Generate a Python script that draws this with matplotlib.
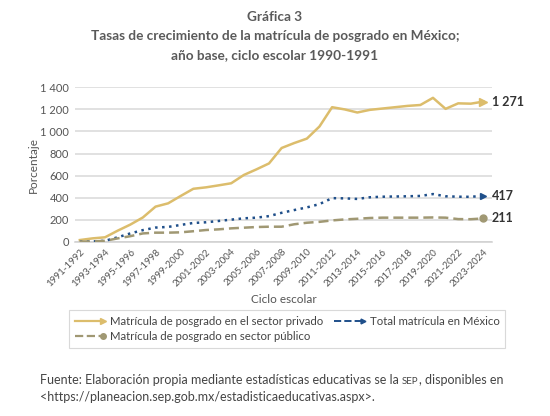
import numpy as np
import matplotlib
matplotlib.use("Agg")
import matplotlib.pyplot as plt
from matplotlib.lines import Line2D
from matplotlib.legend_handler import HandlerBase

plt.rcParams['font.family'] = ['Lato', 'DejaVu Sans']

# school years 1991-1992 ... 2023-2024
ciclos = ["%d-%d" % (y, y + 1) for y in range(1991, 2024)]

# growth rates (%), base year 1990-1991
privado = [15, 30, 40, 100, 155, 220, 318, 348, 415, 480, 493, 511, 530, 605, 656, 710,
           850, 895, 935, 1045, 1220, 1200, 1172, 1196, 1208, 1220, 1232, 1240, 1305, 1205,
           1255, 1252, 1271]
total = [0, 3, 8, 40, 75, 105, 128, 134, 152, 170, 176, 188, 200, 212, 218, 232,
         262, 287, 311, 341, 395, 393, 388, 403, 408, 410, 412, 415, 432, 412,
         408, 407, 417]
publico = [0, 2, 8, 30, 50, 75, 82, 82, 85, 95, 106, 112, 121, 127, 133, 136,
           136, 158, 172, 180, 193, 202, 208, 215, 218, 218, 218, 218, 220, 218,
           205, 204, 211]

c_priv = "#dcbd6c"
c_tot = "#1f4f8a"
c_pub = "#a09873"
txt = "#555555"

fig = plt.figure(figsize=(5.5, 4.16), dpi=100)
ax = fig.add_axes([0.136, 0.419, 0.759, 0.371])

x = np.arange(len(ciclos))
last = len(ciclos) - 1
ax.plot(x, privado, color=c_priv, lw=1.8, marker=">", markevery=[last], ms=6, zorder=3)
ax.plot(x, total, color=c_tot, lw=1.8, ls=(0, (1, 1.8)), marker=">", markevery=[last],
        ms=4, zorder=3)
ax.plot(x, publico, color=c_pub, lw=1.8, ls=(0, (4, 2)), marker="o", markevery=[last],
        ms=5, zorder=3)

for serie in (privado, total, publico):
    ax.annotate("{:,}".format(serie[-1]).replace(",", " "), (x[-1], serie[-1]),
                xytext=(6, 0), textcoords="offset points", ha="left", va="center",
                fontsize=9, fontweight="bold", color="#333333")

ax.set_xlim(-0.4, 32.7)
ax.set_ylim(0, 1400)
yt = np.arange(0, 1401, 200)
ax.set_yticks(yt)
ax.set_yticklabels(["{:,}".format(v).replace(",", " ") for v in yt], fontsize=8, color=txt)
ax.set_xticks(x[::2])
ax.set_xticklabels(ciclos[::2], rotation=45, ha="right", rotation_mode="anchor",
                   fontsize=7, color=txt)
ax.tick_params(length=0, pad=4)
ax.grid(axis="y", color="#d9d9d9", lw=1.1)
ax.set_axisbelow(True)
for s in ("top", "right", "left"):
    ax.spines[s].set_visible(False)
ax.spines["bottom"].set_color("#cfcfcf")
ax.spines["bottom"].set_linewidth(1.1)
ax.set_ylabel("Porcentaje", fontsize=8.5, color=txt)
ax.yaxis.set_label_coords(-0.087, 0.5)
ax.set_xlabel("Ciclo escolar", fontsize=8.5, color=txt, labelpad=4)


class EndMarker(HandlerBase):
    def __init__(self, marker, ms):
        super().__init__()
        self.marker = marker
        self.ms = ms

    def create_artists(self, legend, orig, xdescent, ydescent, width, height, fontsize, trans):
        y = height / 2 - ydescent
        ln = Line2D([-xdescent, width - xdescent], [y, y], color=orig.get_color(),
                    ls=orig.get_linestyle(), lw=orig.get_linewidth())
        mk = Line2D([width - xdescent], [y], marker=self.marker, ms=self.ms,
                    color=orig.get_color(), ls="none")
        ln.set_transform(trans)
        mk.set_transform(trans)
        return [ln, mk]


h_priv = Line2D([], [], color=c_priv, lw=1.6)
h_tot = Line2D([], [], color=c_tot, lw=1.4, ls=(0, (1, 1.8)))
h_pub = Line2D([], [], color=c_pub, lw=1.6, ls=(0, (3, 2)))
leg = fig.legend([h_priv, h_pub, h_tot],
                 ["Matrícula de posgrado en el sector privado",
                  "Matrícula de posgrado en sector público",
                  "Total matrícula en México"],
                 handler_map={h_priv: EndMarker(">", 5), h_tot: EndMarker(">", 3.5),
                              h_pub: EndMarker("o", 4)},
                 loc="center", bbox_to_anchor=(0.522, 0.209),
                 ncol=2, fontsize=8.2, frameon=True, fancybox=False, handlelength=2.5,
                 handletextpad=0.6, columnspacing=1.0, labelspacing=0.35, borderpad=0.5)
leg.get_frame().set_edgecolor("#d0d0d0")
leg.get_frame().set_linewidth(0.8)
for t in leg.get_texts():
    t.set_color("#444444")

for yy, s in ((17, "Gráfica 3"),
              (36, "Tasas de crecimiento de la matrícula de posgrado en México;"),
              (55, "año base, ciclo escolar 1990-1991")):
    fig.text(0.5, 1 - yy / 416, s, ha="center", va="center", fontsize=9.8,
             fontweight="bold", color="#5a5a5a")

# source note, "SEP" in small caps
r = fig.canvas.get_renderer()
y1 = 1 - 384 / 416
t1 = fig.text(40 / 550, y1, "Fuente: Elaboración propia mediante estadísticas educativas se la ",
              ha="left", va="baseline", fontsize=9, color="#444444")
bb = t1.get_window_extent(r)
t2 = fig.text(bb.x1 / 550, y1, "SEP", ha="left", va="baseline", fontsize=7, color="#444444")
bb2 = t2.get_window_extent(r)
fig.text(bb2.x1 / 550, y1, ", disponibles en", ha="left", va="baseline", fontsize=9,
         color="#444444")
fig.text(40 / 550, 1 - 401 / 416, "<https://planeacion.sep.gob.mx/estadisticaeducativas.aspx>.",
         ha="left", va="baseline", fontsize=9, color="#444444")

fig.savefig("out.png", dpi=100)
